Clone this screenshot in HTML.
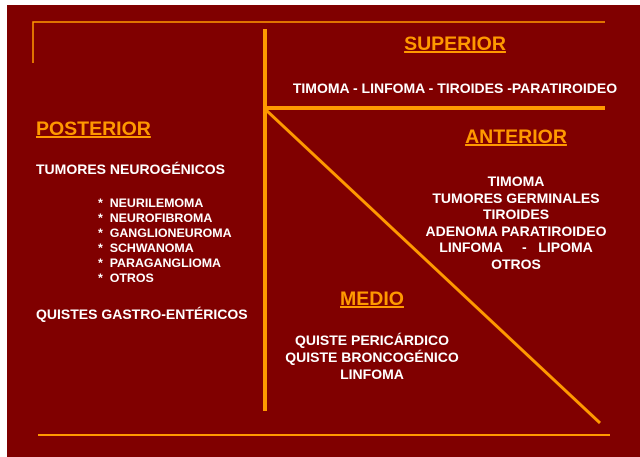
<!DOCTYPE html>
<html><head><style>
body{margin:0;width:640px;height:457px;background:#fff;overflow:hidden;position:relative;font-family:"Liberation Sans",Arial,sans-serif;font-weight:bold}
#bg{position:absolute;left:7px;top:5px;width:633px;height:452px;background:#800000}
.t{position:absolute;color:#fff;font-size:14px;line-height:16px;white-space:nowrap}
.c{transform:translateX(-50%);text-align:center}
.h{position:absolute;color:#ff9900;font-size:19.5px;text-decoration:underline;text-decoration-thickness:2px;white-space:nowrap}
.l{font-size:12.4px;line-height:15px}
</style></head><body>
<div id="bg"></div>
<svg width="640" height="457" style="position:absolute;left:0;top:0">
<g stroke="#ff9900" fill="none">
<polyline points="33,63 33,22 605,22" stroke-width="1.5"/>
<line x1="265" y1="29" x2="265" y2="411" stroke-width="4"/>
<line x1="265" y1="108" x2="605" y2="108" stroke-width="4"/>
<line x1="266" y1="110" x2="600" y2="423" stroke-width="3"/>
<line x1="38" y1="435" x2="610" y2="435" stroke-width="2"/>
</g></svg>
<div class="h c" style="left:455px;top:33px">SUPERIOR</div>
<div class="t c" style="left:455px;top:80px">TIMOMA - LINFOMA - TIROIDES -PARATIROIDEO</div>
<div class="h" style="left:36px;top:118px">POSTERIOR</div>
<div class="t" style="left:36px;top:161px">TUMORES NEUROGÉNICOS</div>
<div class="t l" style="left:98px;top:196px">*&nbsp; NEURILEMOMA<br>*&nbsp; NEUROFIBROMA<br>*&nbsp; GANGLIONEUROMA<br>*&nbsp; SCHWANOMA<br>*&nbsp; PARAGANGLIOMA<br>*&nbsp; OTROS</div>
<div class="t" style="left:36px;top:306px">QUISTES GASTRO-ENTÉRICOS</div>
<div class="h c" style="left:516px;top:126px">ANTERIOR</div>
<div class="t c" style="left:516px;top:173px;line-height:16.5px">TIMOMA<br>TUMORES GERMINALES<br>TIROIDES<br>ADENOMA PARATIROIDEO<br>LINFOMA &nbsp;&nbsp;&nbsp; - &nbsp; LIPOMA<br>OTROS</div>
<div class="h c" style="left:372px;top:288px">MEDIO</div>
<div class="t c" style="left:372px;top:332px;line-height:17px">QUISTE PERICÁRDICO<br>QUISTE BRONCOGÉNICO<br>LINFOMA</div>
</body></html>
